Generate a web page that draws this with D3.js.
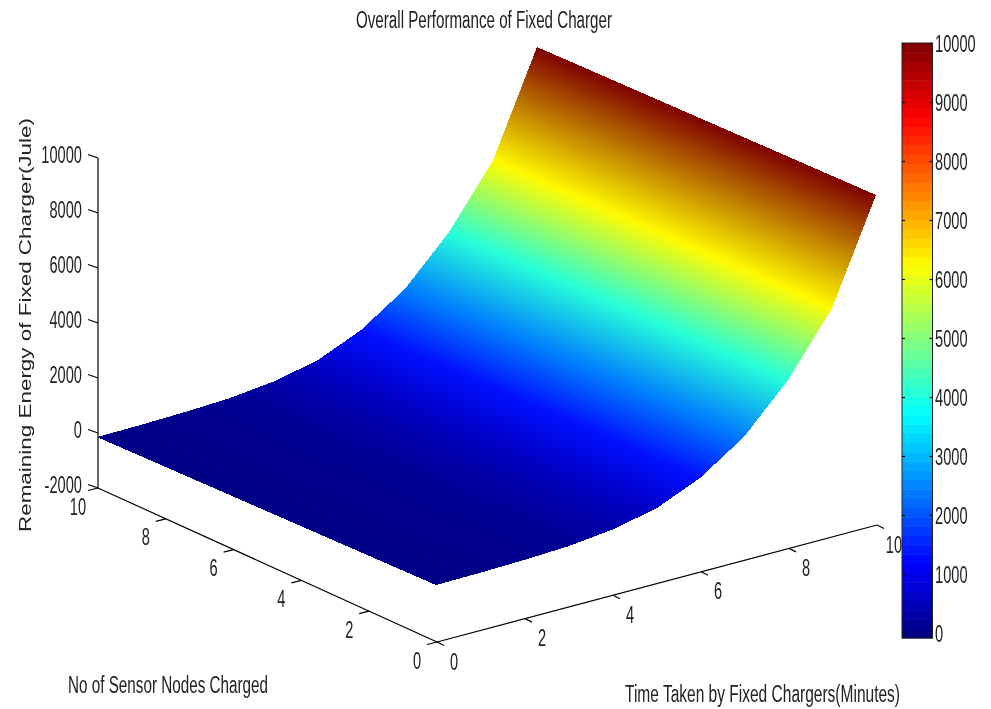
<!DOCTYPE html>
<html>
<head>
<meta charset="utf-8">
<style>
html, body { margin: 0; background: #fff; }
svg { display: block; }
text { font-family: "Liberation Sans", Arial, sans-serif; fill: #222; filter: blur(0.3px); }
.axis line { stroke: #000; stroke-width: 1.2; }
.cbar .domain { display: none; }
.cbar line { stroke: #111; stroke-width: 1.2; }
.surface path { shape-rendering: crispEdges; }
</style>
</head>
<body>
<svg width="991" height="709" class="chart"></svg>
<script src="https://d3js.org/d3.v7.min.js"></script>
<script>

// values
var timeValues = [0, 1, 2, 3, 4, 5, 6, 7, 8, 9, 10];
var energyByTime = [70, 90, 130, 200, 380, 720, 1410, 2480, 4120, 6300, 10000];
var nodeRange = [0, 10];
var timeTicks = [0, 2, 4, 6, 8, 10];
var nodeTicks = [0, 2, 4, 6, 8, 10];
var energyTicks = [-2000, 0, 2000, 4000, 6000, 8000, 10000];
var colorbarTicks = [0, 1000, 2000, 3000, 4000, 5000, 6000, 7000, 8000, 9000, 10000];
var colorbarLevels = d3.range(64);

var svg = d3.select(".chart");

// MATLAB jet
var jet = d3.scaleLinear()
    .domain([0, 0.125, 0.375, 0.625, 0.875, 1])
    .range(["#00007f", "#0000ff", "#00ffff", "#ffff00", "#ff0000", "#7f0000"]);
var color = function(v) { return jet(Math.max(0, Math.min(1, v / 10000))); };

// oblique projection, one scale per screen offset
var timeX = d3.scaleLinear().domain([0, 10]).range([0, 440]);
var timeY = d3.scaleLinear().domain([0, 10]).range([0, -117]);
var nodeX = d3.scaleLinear().domain(nodeRange).range([0, -339]);
var nodeY = d3.scaleLinear().domain(nodeRange).range([0, -154]);
var nodeYSurf = d3.scaleLinear().domain(nodeRange).range([0, -148]); // the back edge sits a bit lower than the floor axis
var energyY = d3.scaleLinear().domain([-2000, 10000]).range([0, -330]);

var originX = 437, originY = 642;

function surfacePoint(t, n, z) {
  return [originX - 1 + timeX(t) + nodeX(n), originY + timeY(t) + nodeYSurf(n) + energyY(z)];
}
function floorPoint(t, n) {
  return [originX + timeX(t) + nodeX(n), originY + timeY(t) + nodeY(n)];
}

// surface: one strip per time step, colours blended between the two vertices
var defs = svg.append("defs");
var nx = nodeX(10) - nodeX(0), ny = nodeYSurf(10) - nodeYSurf(0), nl = Math.sqrt(nx * nx + ny * ny);

var strips = d3.pairs(timeValues.map(function(t, i) { return {t: t, z: energyByTime[i]}; }));

strips.forEach(function(s, i) {
  var a = surfacePoint(s[0].t, 0, s[0].z),
      b = surfacePoint(s[1].t, 0, s[1].z),
      dx = b[0] - a[0], dy = b[1] - a[1],
      along = (dx * nx + dy * ny) / (nl * nl),
      gx = dx - along * nx, gy = dy - along * ny;
  var g = defs.append("linearGradient")
      .attr("id", "strip" + i)
      .attr("gradientUnits", "userSpaceOnUse")
      .attr("x1", a[0]).attr("y1", a[1])
      .attr("x2", a[0] + gx).attr("y2", a[1] + gy);
  g.append("stop").attr("offset", 0).attr("stop-color", color(s[0].z));
  g.append("stop").attr("offset", 1).attr("stop-color", color(s[1].z));
});

svg.append("g").attr("class", "surface")
  .selectAll("path")
  .data(strips)
  .enter().append("path")
    .attr("d", function(s) {
      return d3.line()([
        surfacePoint(s[0].t, 0, s[0].z),
        surfacePoint(s[1].t, 0, s[1].z),
        surfacePoint(s[1].t, 10, s[1].z),
        surfacePoint(s[0].t, 10, s[0].z)
      ]) + "Z";
    })
    .attr("fill", function(s, i) { return "url(#strip" + i + ")"; });

// tick label helper, the source text is squeezed sideways
function tickLabel(sel, x, y, anchor) {
  sel.attr("transform", function(d) { return "translate(" + x(d) + "," + y(d) + ") scale(0.61,1)"; })
    .attr("text-anchor", anchor)
    .attr("dy", "0.36em")
    .attr("font-size", 24)
    .text(function(d) { return d; });
}

var axes = svg.append("g").attr("class", "axis");

function segment(p, q) {
  axes.append("line")
      .attr("x1", p[0]).attr("y1", p[1])
      .attr("x2", q[0]).attr("y2", q[1]);
}

// floor axes
segment(floorPoint(0, 0), floorPoint(10, 0));
segment(floorPoint(0, 0), floorPoint(0, 10));

timeTicks.forEach(function(t) {
  var p = floorPoint(t, 0);
  segment(p, [p[0] + 7, p[1] + 3.5]);
});
nodeTicks.forEach(function(n) {
  var p = floorPoint(0, n);
  segment(p, [p[0] - 10, p[1] + 2.5]);
});

axes.append("g").selectAll("text")
  .data(timeTicks)
  .enter().append("text")
    .call(tickLabel,
      function(t) { return floorPoint(t, 0)[0] + 17; },
      function(t) { return floorPoint(t, 0)[1] + 19; },
      "middle");

axes.append("g").selectAll("text")
  .data(nodeTicks)
  .enter().append("text")
    .call(tickLabel,
      function(n) { return floorPoint(0, n)[0] - 20; },
      function(n) { return floorPoint(0, n)[1] + 18; },
      "middle");

// vertical axis
var zx = floorPoint(0, 10)[0], zy = floorPoint(0, 10)[1];
segment([zx, zy + energyY(-2000)], [zx, zy + energyY(10000)]);
energyTicks.forEach(function(z) {
  var y = zy + energyY(z);
  segment([zx, y], [zx - 10, y - 3.5]);
});

axes.append("g").selectAll("text")
  .data(energyTicks)
  .enter().append("text")
    .call(tickLabel,
      function() { return 82; },
      function(z) { return zy + energyY(z) - 4; },
      "end");

// titles
function label(txt, x, y, size, len, rotate) {
  var t = svg.append("text")
      .attr("font-size", size)
      .attr("textLength", len)
      .attr("lengthAdjust", "spacingAndGlyphs")
      .text(txt);
  if (rotate) t.attr("transform", "translate(" + x + "," + y + ") rotate(-90)");
  else t.attr("x", x).attr("y", y);
}

label("Overall Performance of Fixed Charger", 356, 28, 23, 256);
label("No of Sensor Nodes Charged", 68, 693, 23, 200);
label("Time Taken by Fixed Chargers(Minutes)", 625, 702, 23, 275);
label("Remaining Energy of Fixed Charger(Jule)", 31, 532, 17, 414, true);

// colorbar
var cbarLeft = 902, cbarRight = 932.5, cbarBottom = 638, cbarTop = 43;
var cbarY = d3.scaleLinear().domain([0, 10000]).range([633, 43]);
var levelY = d3.scaleBand().domain(colorbarLevels.slice().reverse()).range([cbarTop, cbarBottom]);

var cbar = svg.append("g").attr("class", "cbar");

cbar.selectAll("rect")
  .data(colorbarLevels)
  .enter().append("rect")
    .attr("x", cbarLeft)
    .attr("y", function(d) { return levelY(d); })
    .attr("width", cbarRight - cbarLeft)
    .attr("height", levelY.bandwidth() + 0.5)
    .attr("fill", function(d) { return jet((d + 0.5) / 64); });

cbar.append("rect")
    .attr("x", cbarLeft)
    .attr("y", cbarTop)
    .attr("width", cbarRight - cbarLeft)
    .attr("height", cbarBottom - cbarTop)
    .attr("fill", "none")
    .attr("stroke", "#222")
    .attr("stroke-width", 1);

cbar.append("g")
    .attr("transform", "translate(" + cbarLeft + ",0)")
    .call(d3.axisLeft(cbarY).tickValues(colorbarTicks).tickSizeInner(-3).tickSizeOuter(0).tickFormat(""));

cbar.append("g")
    .attr("transform", "translate(" + cbarRight + ",0)")
    .call(d3.axisRight(cbarY).tickValues(colorbarTicks).tickSizeInner(-3).tickSizeOuter(0))
  .selectAll("text")
    .attr("x", null)
    .attr("dy", null)
    .call(tickLabel, function() { return 2.5; }, function(d) { return 0; }, "start")
    .style("font-family", "'Liberation Sans', Arial, sans-serif");

</script>
</body>
</html>
